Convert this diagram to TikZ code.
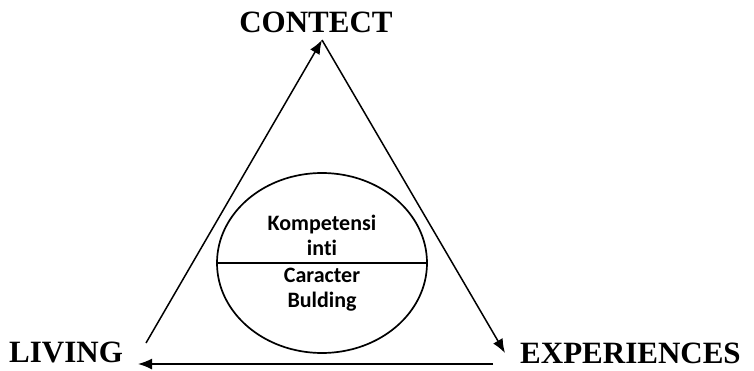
\documentclass[tikz,border=0pt]{standalone}
\usepackage{fontspec}
\setmainfont{Liberation Serif}
\newfontfamily\calib[Ligatures=NoCommon]{Carlito}
\usetikzlibrary{arrows.meta,shapes.geometric}

\tikzset{
  corner/.style={font=\bfseries\fontsize{31}{31}\selectfont,inner sep=0pt},
  inner/.style={font=\calib\bfseries\fontsize{22}{25}\selectfont,inner sep=0pt,align=center},
  arr/.style={-{Latex[length=14pt,width=11pt]},line width=1.5pt}
}

\begin{document}
\begin{tikzpicture}[x=1pt,y=-1pt]
  % helper grid: comment for final drawing
  % \draw[help lines,step=50] (0,0) grid (754,371);
  \useasboundingbox (0,0) rectangle (754,371);
  \coordinate (apex) at (322,40);
  \coordinate (lbot) at (146,343);
  \coordinate (rbot) at (505,353);
  \coordinate (bstart) at (493,364);
  \coordinate (bend) at (138,364);
  \node[corner,anchor=base] (contect) at (316,33) {CONTECT};
  \node[corner,anchor=base west] (living) at (9,362) {LIVING};
  \node[corner,anchor=base west] (exper) at (520,363) {EXPERIENCES};
  \draw[arr] (lbot) -- (apex);
  \draw[arr] (apex) -- (rbot);
  \draw[arr] (bstart) -- (bend);
  \node[ellipse,draw,line width=1.7pt,minimum width=210,minimum height=180,inner sep=0pt] (core) at (322,263) {};
  \draw[line width=1.7pt] (core.west) -- (core.east);
  \node[inner,anchor=base] (komp) at (322,255) {Kompetensi\\inti};
  \node[inner,anchor=base] (carac) at (322,307) {Caracter\\Bulding};
\end{tikzpicture}
\end{document}
